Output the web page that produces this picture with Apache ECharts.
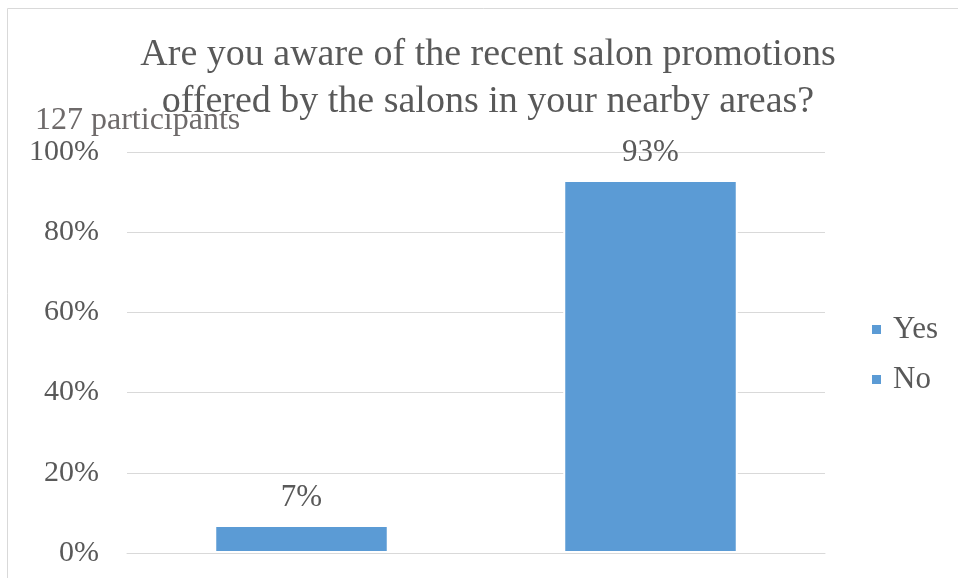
<!DOCTYPE html>
<html>
<head>
<meta charset="utf-8">
<script src="https://cdn.jsdelivr.net/npm/echarts@6/dist/echarts.min.js"></script>
<style>
  html, body { margin: 0; padding: 0; background: #fff; }
  #chart { width: 958px; height: 578px; }
</style>
</head>
<body>
<div id="chart"></div>
<script>
// Survey answers (share of respondents, %)
const answers = ['Yes', 'No'];
const shares = [7, 93];
const yTicks = [0, 20, 40, 60, 80, 100];
const titleLines = ['Are you aware of the recent salon promotions', 'offered by the salons in your nearby areas?'];
const note = '127 participants';

const FONT = '"Liberation Serif", "Times New Roman", serif';
const TEXT = '#595959';
const BAR = '#5B9BD5';

const chart = echarts.init(document.getElementById('chart'));

// One series per answer so the legend lists each one; the empty slot keeps bars in their own category
const series = answers.map((name, i) => ({
  name: name,
  type: 'bar',
  data: answers.map((_, j) => (j === i ? shares[i] : '-')),
  barWidth: '50%',
  barGap: '-100%',
  itemStyle: { color: BAR, borderColor: '#fff', borderWidth: 2 },
  label: {
    show: true,
    position: 'top',
    distance: 12,
    formatter: '{c}%',
    fontFamily: FONT,
    fontSize: 31,
    color: TEXT
  }
}));

chart.setOption({
  animation: false,
  title: {
    text: titleLines.join('\n'),
    left: 483,
    textAlign: 'center',
    top: 27,
    textStyle: { fontFamily: FONT, fontSize: 38, fontWeight: 'normal', color: TEXT, lineHeight: 47 }
  },
  legend: {
    orient: 'vertical',
    left: 870,
    top: 314,
    padding: 0,
    itemWidth: 11,
    itemHeight: 11,
    itemGap: 19,
    icon: 'rect',
    data: answers,
    textStyle: { fontFamily: FONT, fontSize: 31, color: TEXT, padding: [0, 0, 0, 6] }
  },
  graphic: [
    {
      type: 'rect',
      shape: { x: 7.5, y: 8.5, width: 1200, height: 1200 },
      style: { fill: 'none', stroke: '#d9d9d9', lineWidth: 1 },
      silent: true,
      z: -10
    },
    {
      type: 'text',
      left: 35,
      top: 105,
      style: { text: note, font: '32px ' + FONT, fill: '#6e6a6a' }
    }
  ],
  grid: { left: 127, right: 133, top: 152, bottom: 25, containLabel: false },
  xAxis: {
    type: 'category',
    data: answers,
    axisLine: { show: true, lineStyle: { color: '#d9d9d9', width: 1 } },
    axisTick: { show: false },
    axisLabel: { show: false }
  },
  yAxis: {
    type: 'value',
    min: yTicks[0],
    max: yTicks[yTicks.length - 1],
    interval: yTicks[1] - yTicks[0],
    axisLine: { show: false },
    axisTick: { show: false },
    splitLine: { lineStyle: { color: '#d9d9d9', width: 1 } },
    axisLabel: {
      formatter: '{value}%',
      margin: 28,
      fontFamily: FONT,
      fontSize: 30,
      color: TEXT
    }
  },
  series: series
});
</script>
</body>
</html>
